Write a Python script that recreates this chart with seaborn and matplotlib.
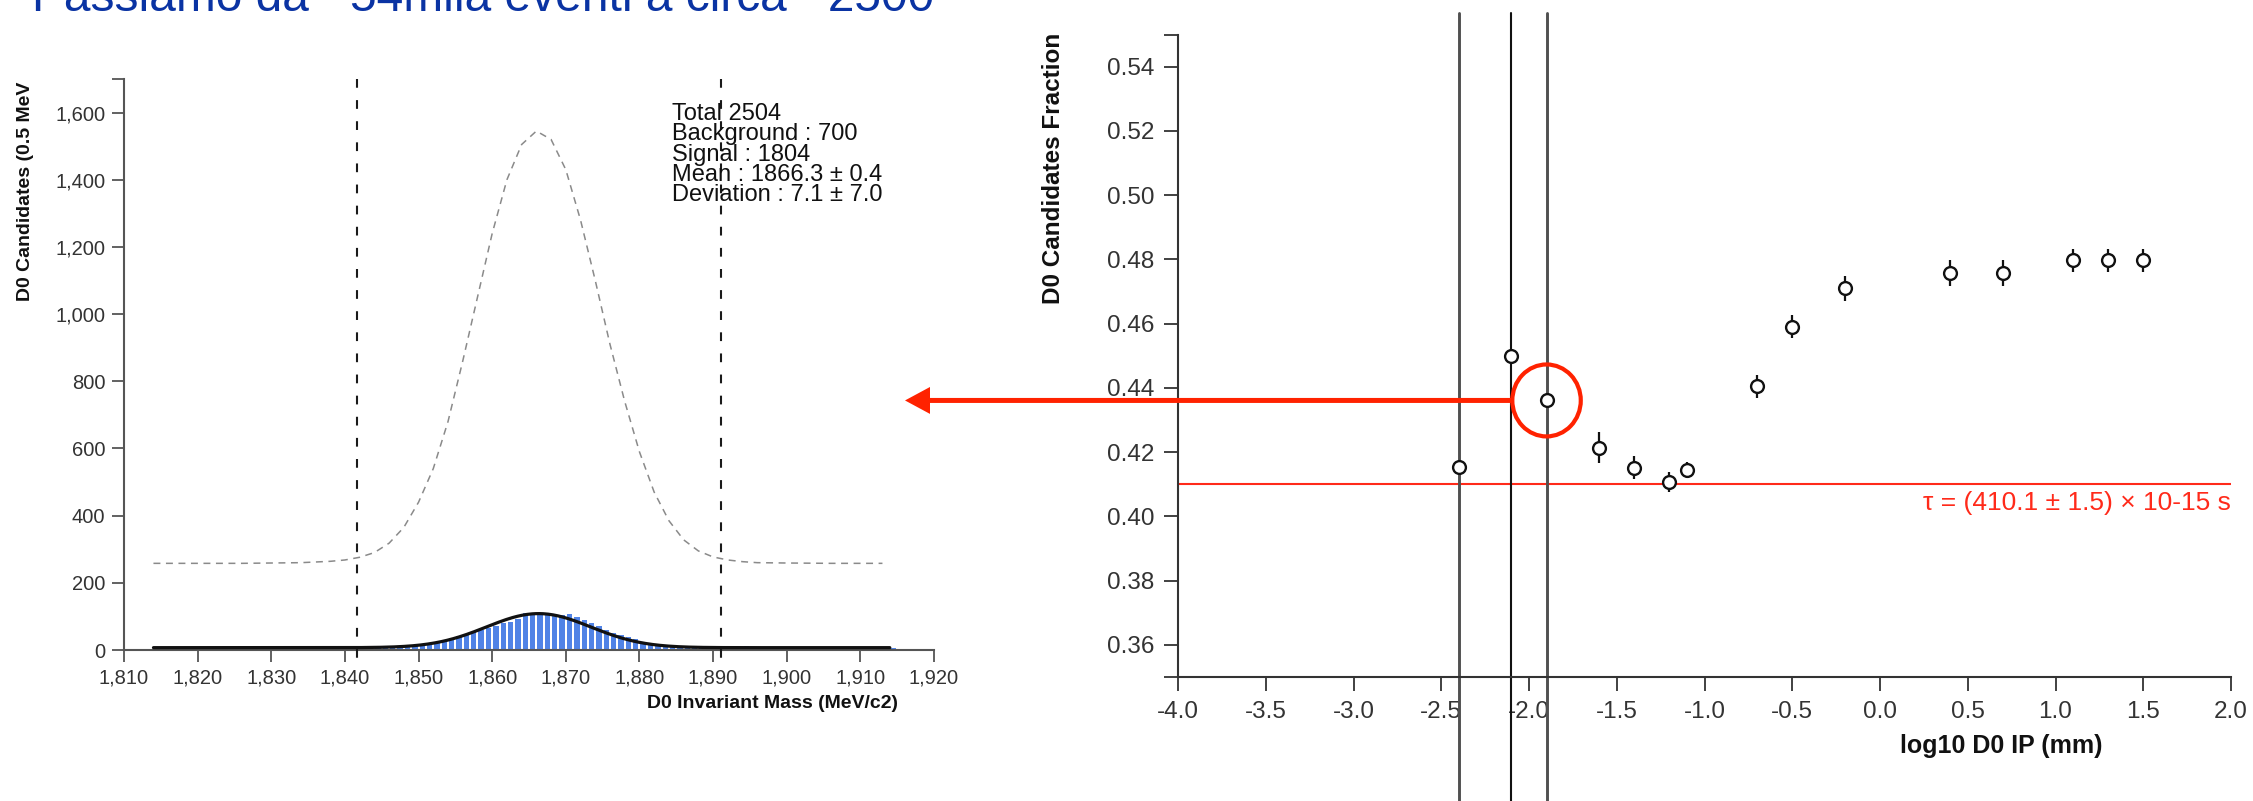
import numpy as np
import pandas as pd
import matplotlib
matplotlib.use("Agg")
import matplotlib.pyplot as plt
import seaborn as sns
from matplotlib.patches import Ellipse

# ---------------- data ----------------
title_text = "Passiamo da ~54mila eventi a circa ~2500"

# D0 invariant mass histogram, 1 MeV/c2 bins starting at 1814 MeV/c2
mass_bin_start = 1814
mass_bin_width = 1.0
mass_counts = [
    7, 8, 6, 8, 7, 8, 6, 7, 8, 6,          # 1814-1823
    7, 8, 6, 11, 7, 6, 8, 7, 6, 8,         # 1824-1833
    6, 7, 10, 8, 6, 8, 10, 7, 8, 9,        # 1834-1843
    10, 8, 11, 10, 12, 14, 17, 20, 25, 30,  # 1844-1853
    36, 42, 48, 54, 60, 66, 72, 80, 84, 92,  # 1854-1863
    109, 108, 104, 103, 100, 104, 108, 99, 90, 80,  # 1864-1873
    70, 60, 50, 44, 38, 32, 22, 20, 18, 13,  # 1874-1883
    11, 9, 8, 7, 9, 11, 10, 9, 7, 8,       # 1884-1893
    11, 7, 6, 10, 7, 8, 6, 7, 8, 6,        # 1894-1903
    7, 6, 8, 7, 6, 8, 10, 7, 6, 8,         # 1904-1913
    6,                                     # 1914
]

# Gaussian + flat background fit
fit_total = 2504
fit_background = 700
fit_signal = 1804
fit_mean = 1866.3
fit_mean_err = 0.4
fit_sigma = 7.1
fit_sigma_err = 7.0
fit_range = (1814, 1914)

# upper envelope (grey dashed)
envelope_mass = [1814, 1820, 1826, 1830, 1834, 1836, 1838, 1840, 1842, 1844,
                 1846, 1848, 1850, 1852, 1854, 1856, 1858, 1860, 1862, 1864,
                 1866, 1868, 1870, 1872, 1874, 1876, 1878, 1880, 1882, 1884,
                 1886, 1888, 1890, 1892, 1894, 1896, 1900, 1906, 1913]
envelope_counts = [258, 258, 258, 259, 260, 262, 264, 268, 276, 290,
                   318, 365, 440, 540, 680, 860, 1050, 1240, 1400, 1505,
                   1545, 1520, 1430, 1280, 1100, 910, 740, 590, 470, 385,
                   328, 295, 277, 268, 263, 260, 259, 258, 258]

# signal window
window_edges = [1841.6, 1891.1]

mass_xticks = list(range(1810, 1921, 10))
count_yticks = list(range(0, 1601, 200))

# D0 candidate fraction vs log10 of impact parameter
ip_log = [-2.4, -2.1, -1.9, -1.6, -1.4, -1.2, -1.1, -0.7, -0.5, -0.2,
          0.4, 0.7, 1.1, 1.3, 1.5]
ip_frac = [0.4154, 0.4500, 0.4361, 0.4214, 0.4152, 0.4107, 0.4144, 0.4405,
           0.4591, 0.4710, 0.4758, 0.4758, 0.4797, 0.4797, 0.4797]
ip_frac_err = [0.002, 0.002, 0.002, 0.0049, 0.0036, 0.0030, 0.0025, 0.0036,
               0.0036, 0.0039, 0.0040, 0.0040, 0.0037, 0.0037, 0.0037]
ip_cuts = [-2.4, -2.1, -1.9]
ip_highlight_index = 2
tau_value = 410.1
tau_err = 1.5

ip_xticks = [-4.0, -3.5, -3.0, -2.5, -2.0, -1.5, -1.0, -0.5, 0.0, 0.5, 1.0, 1.5, 2.0]
frac_yticks = [0.36, 0.38, 0.40, 0.42, 0.44, 0.46, 0.48, 0.50, 0.52, 0.54]

# ---------------- style ----------------
W, H, DPI = 2253, 801, 100
sns.set_theme(style="white")
plt.rcParams["font.family"] = ["Liberation Sans", "DejaVu Sans"]
plt.rcParams["lines.scale_dashes"] = False

BAR_BLUE = "#5083e6"
RED = "#ff2a1a"
TEXT_GREY = "#333333"
TITLE_BLUE = "#0a33a3"

fig = plt.figure(figsize=(W / DPI, H / DPI), dpi=DPI)
fig.patch.set_facecolor("white")


def px_rect(left, top, right, bottom):
    return [left / W, 1 - bottom / H, (right - left) / W, (bottom - top) / H]


def fig_xy(x, y):
    return x / W, 1 - y / H


def style_axis(ax, tick_len, tick_pad, label_size, color):
    sns.despine(ax=ax)
    for side in ("left", "bottom"):
        ax.spines[side].set_color(color)
        ax.spines[side].set_linewidth(1.5)
    ax.tick_params(which="both", direction="out", length=tick_len, width=1.3,
                   color=color, pad=tick_pad, labelsize=label_size,
                   labelcolor=TEXT_GREY, left=True, bottom=True)
    ax.grid(False)
    ax.set_facecolor("white")


# ---------------- left panel: mass spectrum ----------------
ax_m = fig.add_axes(px_rect(124, 79, 934, 650))

edges = [mass_bin_start + mass_bin_width * i for i in range(len(mass_counts) + 1)]
hist_df = pd.DataFrame({
    "mass": [e + mass_bin_width / 2 for e in edges[:-1]],
    "count": mass_counts,
})
sns.histplot(data=hist_df, x="mass", weights="count", bins=edges, shrink=0.72,
             color=BAR_BLUE, linewidth=0, alpha=1.0, ax=ax_m, zorder=2)

# grey envelope
env_line, = ax_m.plot(envelope_mass, envelope_counts, color="#8a8a8a",
                      linewidth=1.1, zorder=3)
env_line.set_dashes((5.0, 4.0))

# fit curve
x_fit = np.linspace(fit_range[0], fit_range[1], 600)
bg_per_bin = fit_background * mass_bin_width / (fit_range[1] - fit_range[0])
amp = fit_signal * mass_bin_width / (fit_sigma * np.sqrt(2 * np.pi))
y_fit = bg_per_bin + amp * np.exp(-0.5 * ((x_fit - fit_mean) / fit_sigma) ** 2)
sns.lineplot(x=x_fit, y=y_fit, ax=ax_m, color="#111111", linewidth=2.3,
             zorder=4, sort=False, estimator=None)

# signal window
for edge in window_edges:
    ln, = ax_m.plot([edge, edge], [1700, -25], color="#1a1a1a", linewidth=1.5,
                    clip_on=False, zorder=5)
    ln.set_dashes((6.3, 8.9))

ax_m.set_xlim(1810, 1920)
ax_m.set_ylim(0, 1700)
ax_m.set_xticks(mass_xticks)
ax_m.set_xticklabels([f"{v:,}" for v in mass_xticks])
ax_m.set_yticks(count_yticks)
ax_m.set_yticklabels([f"{v:,}" for v in count_yticks])
ax_m.set_yticks([1700], minor=True)
ax_m.set_xlabel("")
ax_m.set_ylabel("")
style_axis(ax_m, tick_len=8.5, tick_pad=5, label_size=14.5, color="#555555")

stats = (f"Total {fit_total}\n"
         f"Background : {fit_background}\n"
         f"Signal : {fit_signal}\n"
         f"Mean : {fit_mean} ± {fit_mean_err}\n"
         f"Deviation : {fit_sigma} ± {fit_sigma_err}")
fig.text(*fig_xy(672, 103), stats, ha="left", va="top", fontsize=17,
         linespacing=0.9, color="#111111")

fig.text(*fig_xy(898, 704), "D0 Invariant Mass (MeV/c2)", ha="right",
         va="center", fontsize=14, fontweight="bold", color="#111111")
fig.text(*fig_xy(25, 82), "D0 Candidates (0.5 MeV", rotation=90,
         ha="center", va="top", fontsize=14, fontweight="bold", color="#111111")

# ---------------- right panel: fraction vs log10 IP ----------------
ax_f = fig.add_axes(px_rect(1178, 34.6, 2231, 677))
ax_f.set_xlim(-4.0, 2.0)
ax_f.set_ylim(0.35, 0.55)

for i, cut in enumerate(ip_cuts):
    dark = (i == 1)
    ax_f.axvline(cut, ymin=-0.2, ymax=1.034, clip_on=False,
                 color="#111111" if dark else "#505050",
                 linewidth=1.5 if dark else 2.1, zorder=2)

ax_f.axhline(tau_value / 1000.0, color=RED, linewidth=1.5, zorder=1)
ax_f.text(2.0, tau_value / 1000.0 - 0.0058,
          f"τ = ({tau_value} ± {tau_err}) × 10-15 s", ha="right", va="center",
          fontsize=19, color=RED)

ax_f.errorbar(ip_log, ip_frac, yerr=ip_frac_err, fmt="none", ecolor="#111111",
              elinewidth=1.6, capsize=0, zorder=3)
sns.scatterplot(x=ip_log, y=ip_frac, ax=ax_f, marker="o", s=85,
                color="white", edgecolor="#111111", linewidth=1.7, zorder=4)

ax_f.set_xticks(ip_xticks)
ax_f.set_xticklabels([f"{v:.1f}" for v in ip_xticks])
ax_f.set_yticks(frac_yticks)
ax_f.set_yticklabels([f"{v:.2f}" for v in frac_yticks])
ax_f.set_yticks([0.35, 0.55], minor=True)
ax_f.set_xlabel("")
ax_f.set_ylabel("")
style_axis(ax_f, tick_len=10, tick_pad=7, label_size=17.5, color="#333333")

fig.text(*fig_xy(2001, 746), "log10 D0 IP (mm)", ha="center", va="center",
         fontsize=18, fontweight="bold", color="#111111")
fig.text(*fig_xy(1053, 33), "D0 Candidates Fraction", rotation=90,
         ha="center", va="top", fontsize=17.5, fontweight="bold", color="#111111")

# highlighted point: ring plus arrow pointing back to the mass spectrum
hx, hy = ip_log[ip_highlight_index], ip_frac[ip_highlight_index]
ax_f.add_patch(Ellipse((hx, hy), width=0.39, height=0.0224, fill=False,
                       edgecolor="#ff2200", linewidth=3.0, clip_on=False, zorder=6))
ax_f.annotate("", xy=(905, hy), xycoords=("figure pixels", "data"),
              xytext=(hx - 0.195, hy), textcoords="data",
              arrowprops=dict(arrowstyle="simple,head_length=0.9,head_width=0.97,tail_width=0.18",
                              mutation_scale=20, fc="#ff2200", ec="none",
                              shrinkA=0, shrinkB=0),
              annotation_clip=False, zorder=7)

# ---------------- title (partly above the canvas) ----------------
fig.text(*fig_xy(32, 11), title_text, ha="left", va="baseline",
         fontsize=34.5, color=TITLE_BLUE)

fig.savefig("out.png", dpi=DPI, facecolor="white")
